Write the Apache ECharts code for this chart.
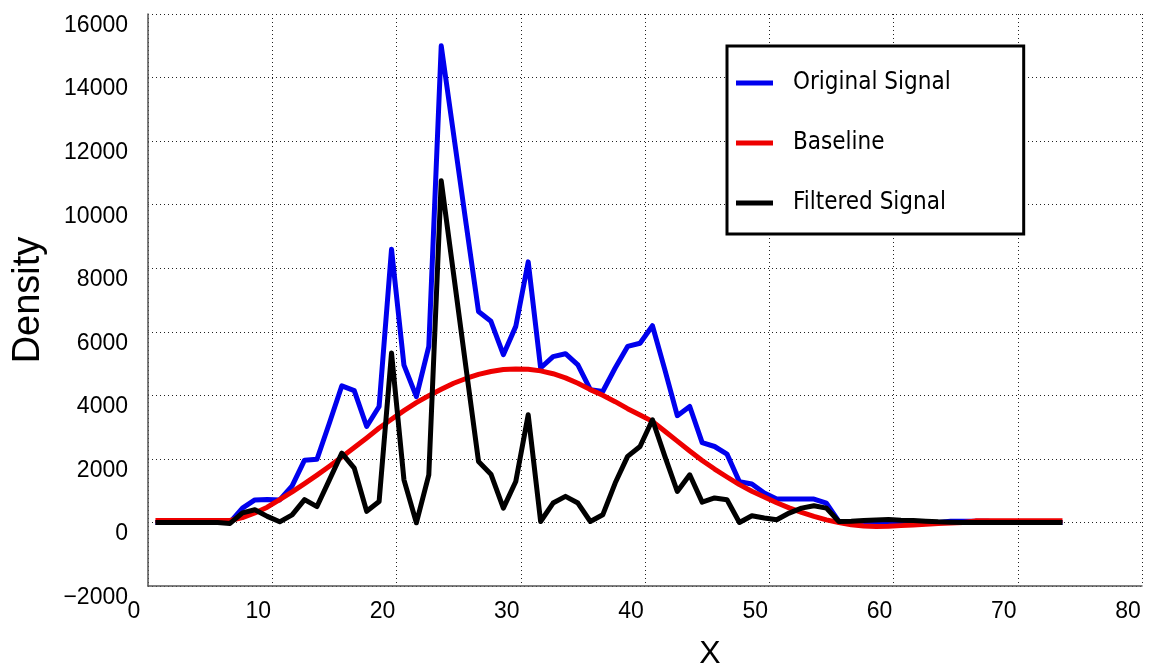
<!DOCTYPE html>
<html>
<head>
<meta charset="utf-8">
<script src="https://cdn.jsdelivr.net/npm/echarts@6/dist/echarts.min.js"></script>
<style>
html,body{margin:0;padding:0;background:#fff;}
#chart{width:1152px;height:671px;}
</style>
</head>
<body>
<div id="chart"></div>
<script>
var xValues = [0.6,1.6,2.6,3.6,4.6,5.6,6.6,7.6,8.6,9.6,10.6,11.6,12.6,13.6,14.6,15.6,16.6,17.6,18.6,19.6,
  20.6,21.6,22.6,23.6,24.6,25.6,26.6,27.6,28.6,29.6,30.6,31.6,32.6,33.6,34.6,35.6,36.6,37.6,38.6,39.6,
  40.6,41.6,42.6,43.6,44.6,45.6,46.6,47.6,48.6,49.6,50.6,51.6,52.6,53.6,54.6,55.6,56.6,57.6,58.6,59.6,
  60.6,61.6,62.6,63.6,64.6,65.6,66.6,67.6,68.6,69.6,70.6,71.6,72.6,73.6];

var originalSignal = [0,0,0,0,0,0,0,450,710,720,710,1150,1960,1990,3130,4300,4150,3020,3650,8600,
  4950,3960,5540,15000,12200,9400,6640,6330,5280,6170,8200,4860,5220,5310,4960,4180,4120,4860,5540,5640,
  6190,4800,3360,3650,2510,2390,2150,1280,1210,925,735,735,735,735,610,30,0,0,0,0,
  0,0,0,0,40,40,40,40,0,0,0,0,0,0];

var baseline = [60,60,60,60,60,60,60,150,300,480,720,960,1220,1490,1770,2060,2360,2660,2970,3250,
  3520,3770,3990,4190,4380,4530,4660,4750,4810,4830,4820,4770,4680,4550,4380,4180,4000,3800,3580,3380,
  3180,2870,2560,2250,1950,1680,1430,1190,980,800,620,460,320,190,80,0,-70,-110,-125,-120,
  -100,-80,-55,-35,-15,0,50,50,50,50,50,50,50,50];

var filteredSignal = [0,0,0,0,0,0,-30,300,400,190,20,240,720,500,1340,2180,1710,350,660,5330,
  1340,-10,1500,10750,7800,4850,1920,1520,450,1290,3390,30,610,820,610,30,240,1240,2080,2390,
  3230,2080,975,1500,640,770,715,0,210,140,85,295,450,525,450,30,40,60,80,90,
  70,60,40,20,10,0,0,0,0,0,0,0,0,0];

var seriesNames = ['Original Signal', 'Baseline', 'Filtered Signal'];
var xAxisTitle = 'X';
var yAxisTitle = 'Density';

function pairs(ys) {
  return ys.map(function (y, i) { return [xValues[i], y]; });
}

var chart = echarts.init(document.getElementById('chart'), null, {renderer: 'canvas'});
var labelFont = 'Liberation Sans, Arial, Helvetica, sans-serif';
var gridLine = {show: true, lineStyle: {color: '#222', width: 1, type: [1, 3]}};

chart.setOption({
  animation: false,
  backgroundColor: '#fff',
  grid: {left: 148, right: 10, top: 14, bottom: 85, containLabel: false, outerBoundsMode: 'none'},
  legend: {
    orient: 'vertical',
    left: 727, top: 46,
    data: seriesNames,
    icon: 'rect',
    itemWidth: 37, itemHeight: 5,
    itemGap: 34,
    padding: [24, 73, 18, 9],
    borderColor: '#000', borderWidth: 3,
    backgroundColor: '#fff',
    textStyle: {fontFamily: "'DejaVu Sans Condensed', 'DejaVu Sans', sans-serif", fontSize: 24, color: '#000', lineHeight: 26, padding: [0, 0, 0, 15]}
  },
  xAxis: {
    type: 'value', min: 0, max: 80, interval: 10,
    name: xAxisTitle, nameLocation: 'middle', nameGap: 52,
    nameTextStyle: {fontFamily: labelFont, fontSize: 32, color: '#000', padding: [0, 0, 0, 130]},
    axisLine: {show: true, onZero: false, lineStyle: {color: '#555', width: 1.5}},
    axisTick: {show: false},
    axisLabel: {fontFamily: labelFont, fontSize: 23, color: '#000', margin: 14, padding: [0, 28, 0, 0]},
    splitLine: gridLine
  },
  yAxis: {
    type: 'value', min: -2000, max: 16000, interval: 2000,
    name: yAxisTitle, nameLocation: 'middle', nameRotate: 90, nameGap: 100,
    nameTextStyle: {fontFamily: labelFont, fontSize: 38, color: '#000'},
    axisLine: {show: true, onZero: false, lineStyle: {color: '#555', width: 1.5}},
    axisTick: {show: false},
    axisLabel: {fontFamily: labelFont, fontSize: 23, color: '#000', margin: 20,
      verticalAlign: 'top', lineHeight: 23,
      formatter: function (v) { return String(v).replace('-', '\u2212'); }},
    splitLine: gridLine
  },
  series: [
    {name: seriesNames[0], type: 'line', data: pairs(originalSignal), showSymbol: false, symbol: 'none',
     lineStyle: {color: '#0000ee', width: 5, join: 'round'}, itemStyle: {color: '#0000ee'}, z: 2},
    {name: seriesNames[1], type: 'line', data: pairs(baseline), showSymbol: false, symbol: 'none',
     lineStyle: {color: '#ee0000', width: 5, join: 'round'}, itemStyle: {color: '#ee0000'}, z: 3},
    {name: seriesNames[2], type: 'line', data: pairs(filteredSignal), showSymbol: false, symbol: 'none',
     lineStyle: {color: '#000000', width: 5, join: 'round'}, itemStyle: {color: '#000000'}, z: 4}
  ]
});
</script>
</body>
</html>
